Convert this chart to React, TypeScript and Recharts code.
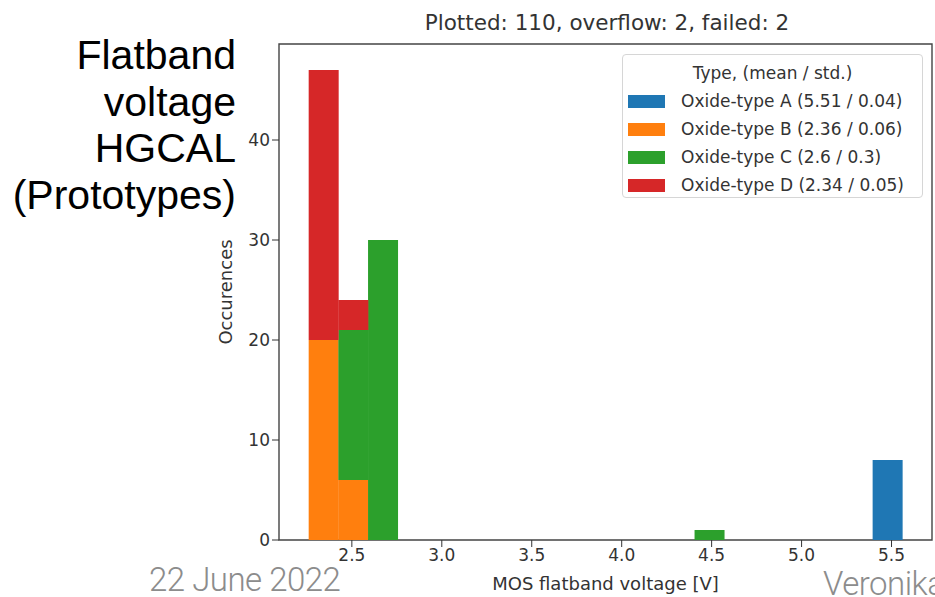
import { BarChart, Bar, XAxis, YAxis, ReferenceArea } from 'recharts'

// histogram bin centres [V]
const binCenters = [
    2.3425, 2.5075, 2.6725, 2.8375, 3.0025, 3.1675, 3.3325, 3.4975, 3.6625, 3.8275,
    3.9925, 4.1575, 4.3225, 4.4875, 4.6525, 4.8175, 4.9825, 5.1475, 5.3125, 5.4775,
]
const typeA = [0, 0, 0, 0, 0, 0, 0, 0, 0, 0, 0, 0, 0, 0, 0, 0, 0, 0, 0, 8]
const typeB = [20, 6, 0, 0, 0, 0, 0, 0, 0, 0, 0, 0, 0, 0, 0, 0, 0, 0, 0, 0]
const typeC = [0, 15, 30, 0, 0, 0, 0, 0, 0, 0, 0, 0, 0, 1, 0, 0, 0, 0, 0, 0]
const typeD = [27, 3, 0, 0, 0, 0, 0, 0, 0, 0, 0, 0, 0, 0, 0, 0, 0, 0, 0, 0]

const seriesLabels = [
    'Oxide-type A (5.51 / 0.04)',
    'Oxide-type B (2.36 / 0.06)',
    'Oxide-type C (2.6 / 0.3)',
    'Oxide-type D (2.34 / 0.05)',
]
const seriesColors = ['#1f77b4', '#ff7f0e', '#2ca02c', '#d62728']
const xTicks = [2.5, 3.0, 3.5, 4.0, 4.5, 5.0, 5.5]
const yTicks = [0, 10, 20, 30, 40]
const xDomain = [2.095, 5.725]
const yDomain = [0, 49.6]

const data = binCenters.map((v, i) => ({ v, A: typeA[i], B: typeB[i], C: typeC[i], D: typeD[i] }))

const mpl = '"DejaVu Sans", sans-serif'
const ink = '#333'

function LegendBox() {
    return (
        <div
            style={{
                position: 'absolute',
                left: 622,
                top: 54,
                width: 301,
                height: 144,
                boxSizing: 'border-box',
                border: '1px solid #d6d6d6',
                borderRadius: 4,
                background: 'rgba(255,255,255,0.85)',
                fontFamily: mpl,
                fontSize: 17,
                color: ink,
                paddingTop: 4,
            }}
        >
            <div style={{ textAlign: 'center', height: 28, lineHeight: '28px' }}>Type, (mean / std.)</div>
            {seriesLabels.map((label, i) => (
                <div key={label} style={{ display: 'flex', alignItems: 'center', height: 28 }}>
                    <span style={{ width: 37, height: 13, background: seriesColors[i], marginLeft: 5, marginRight: 16 }} />
                    <span>{label}</span>
                </div>
            ))}
        </div>
    )
}

const footText = {
    position: 'absolute' as const,
    fontFamily: 'Roboto, sans-serif',
    fontWeight: 300,
    fontSize: 33,
    lineHeight: '26px',
    color: '#8c8c8c',
    whiteSpace: 'nowrap' as const,
    letterSpacing: -0.5,
}

export default function App() {
    return (
        <div style={{ position: 'absolute', left: 0, top: 0, width: 935, height: 597, overflow: 'hidden', background: '#fff' }}>
            <div
                style={{
                    position: 'absolute',
                    right: 935 - 236,
                    top: 32,
                    textAlign: 'right',
                    fontFamily: '"Liberation Sans", Arial, sans-serif',
                    fontSize: 41,
                    lineHeight: '46.5px',
                    color: '#000',
                    whiteSpace: 'nowrap',
                }}
            >
                Flatband<br />voltage<br />HGCAL<br />(Prototypes)
            </div>

            <div style={{ position: 'absolute', left: 300, width: 614, top: 10, textAlign: 'center', fontFamily: mpl, fontSize: 21.5, color: ink }}>
                Plotted: 110, overflow: 2, failed: 2
            </div>

            <div
                style={{
                    position: 'absolute',
                    left: 225,
                    top: 292,
                    transform: 'translate(-50%, -50%) rotate(-90deg)',
                    fontFamily: mpl,
                    fontSize: 18,
                    color: ink,
                    whiteSpace: 'nowrap',
                }}
            >
                Occurences
            </div>

            <BarChart
                width={935}
                height={597}
                data={data}
                margin={{ top: 44, right: 3, bottom: 27, left: 219 }}
                barCategoryGap={0}
                barGap={0}
                style={{ position: 'absolute', left: 0, top: 0 }}
            >
                <XAxis
                    dataKey="v"
                    type="number"
                    domain={xDomain}
                    allowDataOverflow
                    ticks={xTicks}
                    tickFormatter={(t: number) => t.toFixed(1)}
                    tick={{ fontFamily: mpl, fontSize: 17, fill: ink }}
                    tickSize={7}
                    tickLine={{ stroke: ink }}
                    axisLine={false}
                    height={30}
                    label={{ value: 'MOS flatband voltage [V]', position: 'insideBottom', offset: -20, fontFamily: mpl, fontSize: 18, fill: ink }}
                />
                <YAxis
                    type="number"
                    domain={yDomain}
                    allowDataOverflow
                    ticks={yTicks}
                    tick={{ fontFamily: mpl, fontSize: 17, fill: ink }}
                    tickSize={7}
                    tickLine={{ stroke: ink }}
                    axisLine={false}
                    width={60}
                />
                <Bar dataKey="A" stackId="h" fill={seriesColors[0]} isAnimationActive={false} />
                <Bar dataKey="B" stackId="h" fill={seriesColors[1]} isAnimationActive={false} />
                <Bar dataKey="C" stackId="h" fill={seriesColors[2]} isAnimationActive={false} />
                <Bar dataKey="D" stackId="h" fill={seriesColors[3]} isAnimationActive={false} />
                <ReferenceArea
                    x1={xDomain[0]}
                    x2={xDomain[1]}
                    y1={yDomain[0]}
                    y2={yDomain[1]}
                    fill="none"
                    stroke="#444"
                    strokeWidth={1.4}
                    ifOverflow="visible"
                />
            </BarChart>

            <LegendBox />

            <div style={{ ...footText, left: 149, top: 567 }}>22 June 2022</div>
            <div style={{ ...footText, left: 823, top: 571 }}>Veronika</div>
        </div>
    )
}
